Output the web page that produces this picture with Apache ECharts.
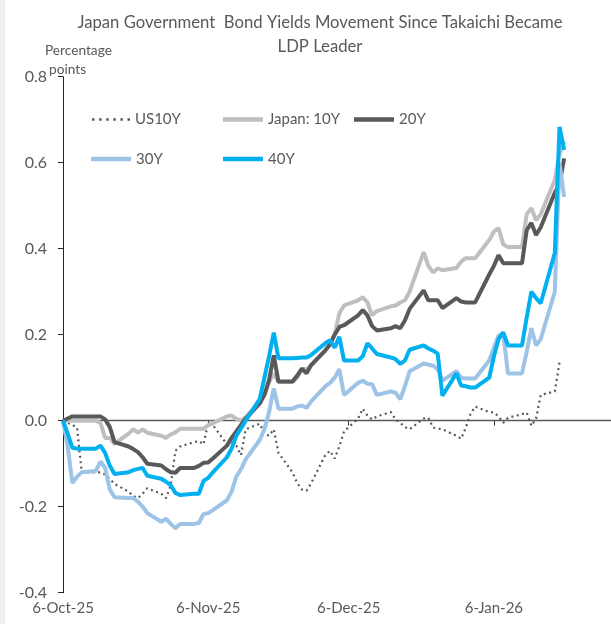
<!DOCTYPE html>
<html><head><meta charset="utf-8">
<script src="https://cdn.jsdelivr.net/npm/echarts@6/dist/echarts.min.js"></script>
<style>html,body{margin:0;padding:0;background:#fff}#c{width:611px;height:624px}</style>
</head><body><div id="c"></div><script>
const dates = [
 '2025-10-06','2025-10-07','2025-10-08','2025-10-09','2025-10-10','2025-10-13','2025-10-14','2025-10-15','2025-10-16','2025-10-17',
 '2025-10-20','2025-10-21','2025-10-22','2025-10-23','2025-10-24','2025-10-27','2025-10-28','2025-10-29','2025-10-30','2025-10-31',
 '2025-11-03','2025-11-04','2025-11-05','2025-11-06','2025-11-07','2025-11-10','2025-11-11','2025-11-12','2025-11-13','2025-11-14',
 '2025-11-17','2025-11-18','2025-11-19','2025-11-20','2025-11-21','2025-11-24','2025-11-25','2025-11-26','2025-11-27','2025-11-28',
 '2025-12-01','2025-12-02','2025-12-03','2025-12-04','2025-12-05','2025-12-08','2025-12-09','2025-12-10','2025-12-11','2025-12-12',
 '2025-12-15','2025-12-16','2025-12-17','2025-12-18','2025-12-19','2025-12-22','2025-12-23','2025-12-24','2025-12-25','2025-12-26',
 '2025-12-29','2025-12-30','2025-12-31',
 '2026-01-01','2026-01-02','2026-01-05','2026-01-06','2026-01-07','2026-01-08','2026-01-09','2026-01-12','2026-01-13','2026-01-14',
 '2026-01-15','2026-01-16','2026-01-19','2026-01-20','2026-01-21'
];
const us10y = [
 0,-0.005,-0.01,-0.016,-0.12,-0.12,-0.12,-0.125,-0.135,-0.147,-0.165,-0.175,-0.18,-0.17,-0.157,-0.17,-0.18,-0.15,-0.07,-0.06,
 -0.05,-0.047,-0.055,-0.005,-0.01,-0.055,-0.05,-0.058,-0.08,-0.02,-0.007,-0.03,-0.035,-0.02,-0.075,-0.12,-0.145,-0.16,-0.163,-0.145,
 -0.08,-0.07,-0.088,-0.06,-0.025,0.005,0.028,0.012,0.003,0.01,0.02,0.003,-0.005,-0.015,-0.02,0.005,0.007,-0.016,-0.018,-0.02,-0.035,-0.042,-0.016,
 0.015,0.033,0.02,0.019,0.01,-0.005,0.007,0.015,0.019,-0.012,0.005,0.06,0.068,0.135,null
];
const jp10y = [
 0,0,0,0,0,0,-0.005,-0.04,-0.04,-0.054,-0.03,-0.02,-0.028,-0.02,-0.028,-0.035,-0.04,-0.032,-0.027,-0.019,
 -0.019,-0.019,-0.019,-0.01,-0.006,0.01,0.012,0.004,0.0,0.008,0.045,0.06,0.09,0.11,0.09,0.09,0.1,0.12,0.12,0.128,
 0.165,0.18,0.2,0.25,0.268,0.28,0.287,0.275,0.245,0.255,0.266,0.268,0.275,0.28,0.3,0.392,0.36,0.345,0.354,0.35,0.355,0.37,0.378,
 0.378,0.378,0.42,0.44,0.448,0.41,0.404,0.404,0.48,0.494,0.466,0.48,0.56,0.62,0.65
];
const jp20y = [
 0,0.005,0.01,0.01,0.01,0.01,0.01,0.003,-0.015,-0.05,-0.06,-0.066,-0.073,-0.085,-0.1,-0.104,-0.113,-0.12,-0.121,-0.11,
 -0.11,-0.105,-0.098,-0.097,-0.088,-0.058,-0.04,-0.025,-0.01,0.005,0.04,0.06,0.095,0.152,0.091,0.091,0.105,0.121,0.11,0.13,
 0.163,0.177,0.2,0.218,0.222,0.245,0.257,0.245,0.22,0.21,0.215,0.22,0.215,0.233,0.26,0.303,0.28,0.28,0.28,0.262,0.285,0.277,0.275,
 0.275,0.275,0.34,0.36,0.385,0.366,0.366,0.366,0.443,0.46,0.432,0.45,0.53,0.55,0.61
];
const jp30y = [
 0,-0.06,-0.145,-0.13,-0.12,-0.117,-0.095,-0.11,-0.16,-0.178,-0.18,-0.18,-0.188,-0.2,-0.215,-0.235,-0.228,-0.24,-0.25,-0.24,
 -0.24,-0.238,-0.217,-0.215,-0.208,-0.185,-0.165,-0.13,-0.113,-0.09,-0.045,-0.02,0.02,0.075,0.028,0.028,0.033,0.035,0.03,0.045,
 0.08,0.088,0.1,0.12,0.06,0.088,0.093,0.086,0.085,0.06,0.068,0.065,0.05,0.08,0.115,0.133,0.13,0.128,0.12,0.093,0.115,0.1,0.098,
 0.098,0.098,0.14,0.17,0.198,0.203,0.11,0.11,0.16,0.215,0.175,0.19,0.3,0.6,0.52
];
const jp40y = [
 0,-0.03,-0.063,-0.065,-0.065,-0.065,-0.058,-0.075,-0.105,-0.124,-0.12,-0.115,-0.112,-0.11,-0.128,-0.135,-0.142,-0.15,-0.168,-0.173,
 -0.17,-0.17,-0.14,-0.133,-0.12,-0.085,-0.065,-0.035,-0.018,0.0,0.05,0.1,0.15,0.205,0.145,0.145,0.146,0.147,0.147,0.153,
 0.18,0.187,0.17,0.195,0.14,0.14,0.15,0.18,0.168,0.155,0.147,0.143,0.132,0.14,0.165,0.175,0.168,0.163,0.156,0.058,0.11,0.082,0.08,
 0.077,0.077,0.1,0.15,0.19,0.205,0.175,0.175,0.24,0.3,0.285,0.273,0.39,0.683,0.63
];
const seriesNames = ['US10Y','Japan: 10Y','20Y','30Y','40Y'];
const tickDates = ['2025-10-06','2025-11-06','2025-12-06','2026-01-06'];
const axisStart = '2025-10-06', axisEnd = '2026-01-31';

const months = ['Jan','Feb','Mar','Apr','May','Jun','Jul','Aug','Sep','Oct','Nov','Dec'];
const cats = [];
for (let t = Date.parse(axisStart + 'T00:00:00Z'); t <= Date.parse(axisEnd + 'T00:00:00Z'); t += 86400000) {
  cats.push(new Date(t).toISOString().slice(0, 10));
}
const tickIdx = new Set(tickDates.map(d => cats.indexOf(d)));
const fmtDate = v => { const p = v.split('-'); return (+p[2]) + '-' + months[+p[1] - 1] + '-' + p[0].slice(2); };
const pairs = vals => dates.map((d, i) => [d, vals[i]]).filter(p => p[1] !== null);

const FONT = 'Lato';
const TXT = '#595959';
const colors = ['#595959', '#bfbfbf', '#595959', '#9dc3e6', '#00b0f0'];
const vals = [us10y, jp10y, jp20y, jp30y, jp40y];

const series = vals.map((v, i) => ({
  name: seriesNames[i], type: 'line', xAxisIndex: 0, yAxisIndex: 0,
  data: pairs(v), symbol: 'none', smooth: false, animation: false,
  lineStyle: i === 0 ? { color: colors[i], width: 2.2, type: [2, 3.5] } : { color: colors[i], width: 4 },
  itemStyle: { color: colors[i] },
  z: 2 + i
}));

const dotIcon = 'path://M0,0h2.5v2.5h-2.5z M7.1,0h2.5v2.5h-2.5z M14.2,0h2.5v2.5h-2.5z M21.3,0h2.5v2.5h-2.5z M28.4,0h2.5v2.5h-2.5z M35.5,0h2.5v2.5h-2.5z';
const legendPos = [[92, 112], [223, 112], [354, 112], [91, 151.5], [223, 151.5]];
const legends = seriesNames.map((n, i) => ({
  data: [n], left: legendPos[i][0], top: legendPos[i][1], padding: 0,
  icon: i === 0 ? dotIcon : 'rect',
  itemWidth: i === 0 ? 38 : 40, itemHeight: i === 0 ? 2.5 : 4.5, selectedMode: false,
  textStyle: { color: TXT, fontSize: 15, fontFamily: FONT }
}));

const chart = echarts.init(document.getElementById('c'), null, { renderer: 'canvas' });
chart.setOption({
  animation: false,
  backgroundColor: '#fff',
  title: {
    text: 'Japan Government  Bond Yields Movement Since Takaichi Became\nLDP Leader',
    left: 320, top: 11, textAlign: 'center', padding: 0,
    textStyle: { color: TXT, fontSize: 16.7, fontWeight: 'normal', fontFamily: FONT, lineHeight: 24 }
  },
  legend: legends,
  graphic: [
    { type: 'rect', left: 0, top: 0, shape: { width: 5, height: 624 }, style: { fill: '#f0f0f0' }, silent: true },
    { type: 'text', left: 45, top: 44, style: { text: 'Percentage', fill: TXT, font: '13.7px ' + FONT } },
    { type: 'text', left: 49, top: 63, style: { text: 'points', fill: TXT, font: '13.7px ' + FONT } }
  ],
  grid: { left: 63, right: 0, top: 76.7, bottom: 31.3, outerBoundsMode: 'none' },
  xAxis: [
    {
      type: 'category', data: cats, boundaryGap: false, position: 'bottom',
      axisLine: { show: false, onZero: false }, axisTick: { show: false },
      axisLabel: {
        interval: (idx) => tickIdx.has(idx), formatter: fmtDate,
        color: TXT, fontSize: 15, fontFamily: FONT, margin: 8, hideOverlap: false
      },
      splitLine: { show: false }
    },
    {
      type: 'category', data: cats, boundaryGap: false, position: 'top',
      axisLine: { show: true, onZero: true, lineStyle: { color: '#595959', width: 1.3 } },
      axisTick: { show: true, inside: true, length: 5, interval: (idx) => tickIdx.has(idx), lineStyle: { color: '#404040' } },
      axisLabel: { show: false }, splitLine: { show: false }
    }
  ],
  yAxis: {
    type: 'value', min: -0.4, max: 0.8, interval: 0.2,
    axisLine: { show: true, lineStyle: { color: '#262626', width: 1 } },
    axisTick: { show: true, length: 5, lineStyle: { color: '#262626' } },
    axisLabel: { formatter: v => (Math.abs(v) < 1e-9 ? 0 : v).toFixed(1), color: TXT, fontSize: 16, fontFamily: FONT, margin: 16 },
    splitLine: { show: false }
  },
  series: series
});
</script></body></html>
